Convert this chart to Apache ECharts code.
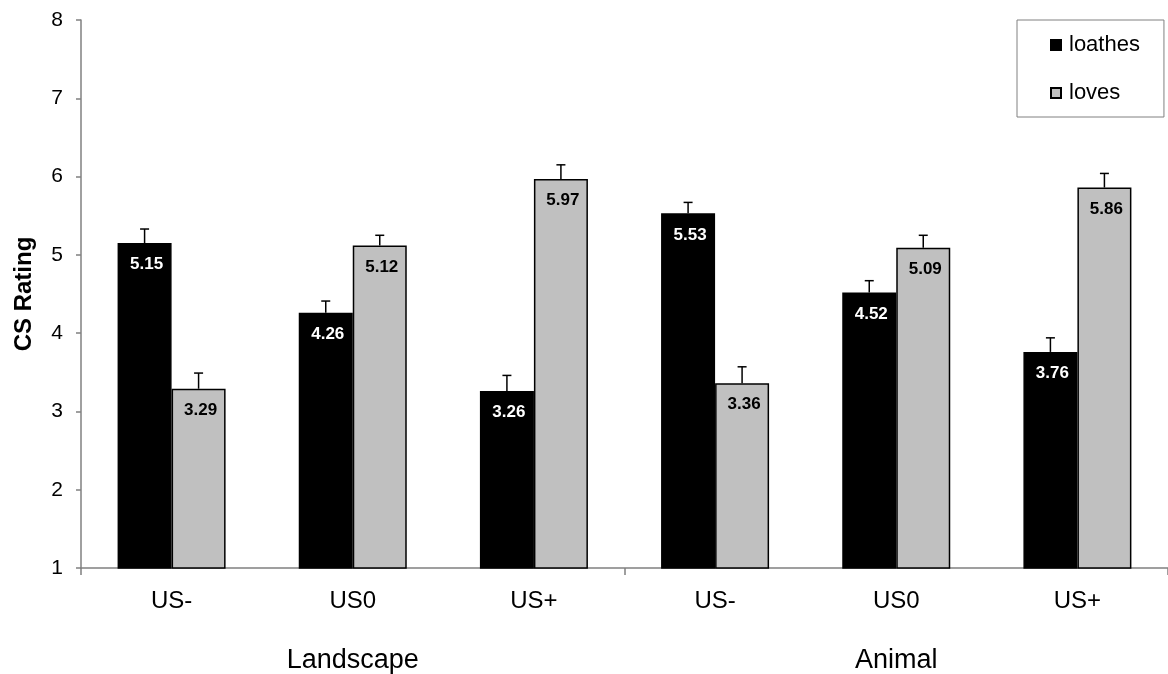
<!DOCTYPE html>
<html>
<head>
<meta charset="utf-8">
<script src="https://cdn.jsdelivr.net/npm/echarts@6/dist/echarts.min.js"></script>
<style>
  html, body { margin: 0; padding: 0; background: #fff; }
  #chart { width: 1168px; height: 674px; }
</style>
</head>
<body>
<div id="chart"></div>
<script>
// Conditions on the x axis, grouped by stimulus type
const categories = ['US-', 'US0', 'US+', 'US-', 'US0', 'US+'];
const groups = ['Landscape', 'Animal'];

// Mean CS ratings
const loathes = [5.15, 4.26, 3.26, 5.53, 4.52, 3.76];
const loves = [3.29, 5.12, 5.97, 3.36, 5.09, 5.86];

// Standard errors (drawn upward only)
const loathesErr = [0.18, 0.15, 0.20, 0.14, 0.15, 0.18];
const lovesErr = [0.20, 0.13, 0.18, 0.21, 0.16, 0.18];

// Y axis range
const yMin = 1, yMax = 8, yStep = 1;

const FONT = "'Liberation Sans', Arial, sans-serif";
const AXIS_GREY = '#808080';
const BAR_W = 54;

function errorBars(values, errs, shift) {
  return {
    type: 'custom',
    z: 5,
    silent: true,
    data: values.map((v, i) => [i, v, errs[i]]),
    encode: { x: 0, y: 1 },
    renderItem: function (params, api) {
      const i = api.value(0), v = api.value(1), e = api.value(2);
      const base = api.coord([i, v]);
      const top = api.coord([i, v + e]);
      const cx = base[0] + shift;
      const style = { stroke: '#000', lineWidth: 1.5 };
      return {
        type: 'group',
        children: [
          { type: 'line', shape: { x1: cx, y1: base[1], x2: cx, y2: top[1] }, style: style },
          { type: 'line', shape: { x1: cx - 4.5, y1: top[1], x2: cx + 4.5, y2: top[1] }, style: style }
        ]
      };
    }
  };
}

function barLabel(color) {
  return {
    show: true,
    position: 'insideTop',
    distance: 13,
    offset: [2, 0],
    color: color,
    fontFamily: FONT,
    fontWeight: 'bold',
    fontSize: 17,
    formatter: p => p.value.toFixed(2)
  };
}

const chart = echarts.init(document.getElementById('chart'), null, { renderer: 'canvas' });

chart.setOption({
  animation: false,
  backgroundColor: '#ffffff',
  textStyle: { fontFamily: FONT },
  grid: { left: 81, right: 0, top: 20, bottom: 106, containLabel: false },
  legend: {
    data: ['loathes', 'loves'],
    orient: 'vertical',
    left: 1017,
    top: 20,
    icon: 'rect',
    itemWidth: 10,
    itemHeight: 10,
    itemGap: 26,
    padding: [14, 24, 13, 33],
    borderColor: AXIS_GREY,
    borderWidth: 1,
    textStyle: { fontFamily: FONT, fontSize: 22, color: '#000', lineHeight: 20, padding: [0, 0, 0, 3] }
  },
  xAxis: [
    {
      type: 'category',
      data: categories,
      axisLine: { lineStyle: { color: AXIS_GREY, width: 1.5 } },
      axisTick: { show: false },
      axisLabel: { color: '#000', fontSize: 24, margin: 21, fontFamily: FONT }
    },
    {
      type: 'category',
      data: groups,
      position: 'bottom',
      axisLine: { show: false },
      axisTick: { show: true, length: 7, lineStyle: { color: AXIS_GREY, width: 1.5 } },
      axisLabel: { color: '#000', fontSize: 27, margin: 79, fontFamily: FONT }
    }
  ],
  yAxis: {
    type: 'value',
    min: yMin,
    max: yMax,
    interval: yStep,
    name: 'CS Rating',
    nameLocation: 'middle',
    nameGap: 45,
    nameTextStyle: { color: '#000', fontWeight: 'bold', fontSize: 24, fontFamily: FONT },
    axisLine: { show: true, lineStyle: { color: AXIS_GREY, width: 1.5 } },
    axisTick: { show: true, length: 5, lineStyle: { color: AXIS_GREY, width: 1.5 } },
    splitLine: { show: false },
    axisLabel: { color: '#000', fontSize: 21, margin: 18, fontFamily: FONT }
  },
  series: [
    {
      name: 'loathes',
      type: 'bar',
      data: loathes,
      barWidth: BAR_W,
      barGap: '0%',
      itemStyle: { color: '#000000', borderColor: '#000', borderWidth: 1.5 },
      label: barLabel('#ffffff')
    },
    {
      name: 'loves',
      type: 'bar',
      data: loves,
      barWidth: BAR_W,
      barGap: '0%',
      itemStyle: { color: '#c0c0c0', borderColor: '#000', borderWidth: 1.5 },
      label: barLabel('#000000')
    },
    errorBars(loathes, loathesErr, -BAR_W / 2),
    errorBars(loves, lovesErr, BAR_W / 2)
  ]
});
</script>
</body>
</html>
